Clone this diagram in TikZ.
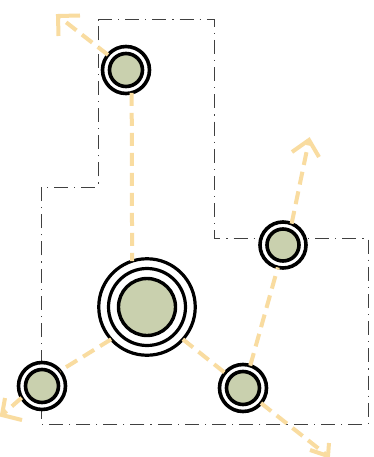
\documentclass[tikz,border=0pt]{standalone}
\definecolor{flow}{HTML}{F9DCA0}
\definecolor{sage}{HTML}{C9D0AE}
\definecolor{bound}{HTML}{404040}
\tikzset{
  boundary/.style={draw=bound,line width=1pt,dash pattern=on 14pt off 6pt on 1.2pt off 6pt},
  ring/.style={circle,draw=black,fill=white,line width=3.6pt,outer sep=0pt,inner sep=0pt,minimum size=#1},
  core/.style={circle,draw=black,fill=sage,line width=3.6pt,outer sep=0pt,inner sep=0pt,minimum size=#1},
  flowline/.style={draw=flow,line width=4pt,dash pattern=on 13pt off 7pt},
  flowtip/.style={draw=flow,line width=4pt,line join=miter},
}
\begin{document}
\begin{tikzpicture}[x=1pt,y=-1pt]
\useasboundingbox (0,0) rectangle (374,457);
\clip (0,0) rectangle (374,457);
\fill[white] (0,0) rectangle (374,457);
% site boundary
\draw[boundary] (98,20) -- (214,20) -- (214,238) -- (368,238) -- (368,424) -- (41,424) -- (41,187) -- (98,187) -- cycle;
% nodes
\node[ring=47pt] (top) at (126,70) {};
\node[core=33pt] (topc) at (top) {};
\node[ring=46pt] (right) at (283,245) {};
\node[core=32pt] (rightc) at (right) {};
\node[ring=47pt] (bl) at (42,386) {};
\node[core=33pt] (blc) at (bl) {};
\node[ring=47pt] (br) at (243,388) {};
\node[core=33pt] (brc) at (br) {};
\node[ring=96.5pt,line width=3.2pt] (big) at (147,307) {};
\node[ring=77pt,line width=3.2pt] (bigm) at (big) {};
\node[core=57pt,line width=3.4pt] (bigc) at (big) {};
% free ends
\coordinate (t1) at (58,16);
\coordinate (t1a) at (80,15.5);
\coordinate (t1b) at (58.5,36);
\coordinate (t2) at (309,140);
\coordinate (t2a) at (292,152);
\coordinate (t2b) at (319,157);
\coordinate (t3) at (2,415);
\coordinate (t3a) at (5,398);
\coordinate (t3b) at (22,420);
\coordinate (t4) at (328,456);
\coordinate (t4a) at (329,443);
\coordinate (t4b) at (310,450);
% connectors
\draw[flowline] (top.-76) -- (big.108);
\draw[flowline] (big.222) -- (bl.40);
\draw[flowline] (big.-42) -- (br.140);
\draw[flowline] (br.72) -- (right.-103);
\draw[flowline] (right.68) -- (t2);
\draw[flowline] (top.140) -- (t1);
\draw[flowline] (bl.210) -- (t3);
\draw[flowline] (br.-40) -- (t4);
% arrowheads
\draw[flowtip] (t1a) -- (t1) -- (t1b);
\draw[flowtip] (t2a) -- (t2) -- (t2b);
\draw[flowtip] (t3a) -- (t3) -- (t3b);
\draw[flowtip] (t4a) -- (t4) -- (t4b);
\end{tikzpicture}
\end{document}
